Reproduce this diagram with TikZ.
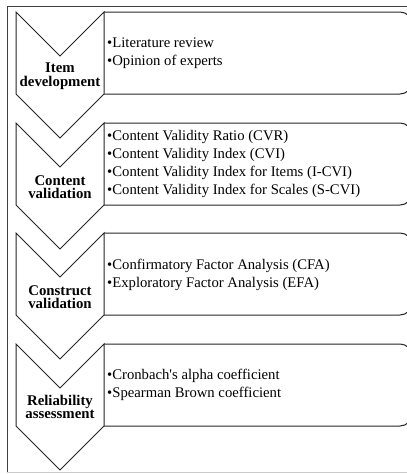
\documentclass[tikz,border=0pt]{standalone}
\usepackage{fontspec}
\setmainfont{Liberation Serif}
\usepackage{tikz}

\tikzset{
	stage/.style={draw=black!85, line width=1pt, fill=white},
	stagebox/.style={draw=black!85, line width=1pt, rounded corners=12pt},
	stagelabel/.style={inner sep=0pt, align=center, font=\bfseries\fontsize{14.8}{13.5}\selectfont},
	itemlist/.style={inner sep=0pt, anchor=west, align=left, font=\fontsize{14.7}{18}\selectfont}
}

\begin{document}
\begin{tikzpicture}[x=1pt, y=-1pt]
	\useasboundingbox (0,0) rectangle (407,474);
	% frame
	\draw[black!75, line width=0.8pt] (7,472.5) -- (7,6) -- (407,6);
	\draw[black!20, line width=0.8pt] (7,472.5) -- (407,472.5);
	% boxes
	\draw[stagebox] (104,12) -- (412,12) -- (412,94) -- (104,94);
	\draw[stagebox] (104,123) -- (412,123) -- (412,205) -- (104,205);
	\draw[stagebox] (104,233) -- (412,233) -- (412,315) -- (104,315);
	\draw[stagebox] (104,344) -- (412,344) -- (412,426) -- (104,426);
	% chevrons
	\draw[stage] (16,12) -- (60,56) -- (104,12) -- (104,94) -- (60,138) -- (16,94) -- cycle;
	\draw[stage] (16,123) -- (60,167) -- (104,123) -- (104,205) -- (60,249) -- (16,205) -- cycle;
	\draw[stage] (16,233) -- (60,277) -- (104,233) -- (104,315) -- (60,359) -- (16,315) -- cycle;
	\draw[stage] (16,344) -- (60,388) -- (104,344) -- (104,426) -- (60,470) -- (16,426) -- cycle;
	% labels
	\node[stagelabel] (item) at (60,76) {Item\\development};
	\node[stagelabel] (content) at (60,187) {Content\\validation};
	\node[stagelabel] (construct) at (60,297) {Construct\\validation};
	\node[stagelabel] (reliab) at (60,407) {Reliability\\assessment};
	% item lists
	\node[itemlist] (itemtxt) at (107,53) {•Literature review\\•Opinion of experts};
	\node[itemlist] (contenttxt) at (107,164) {•Content Validity Ratio (CVR)\\•Content Validity Index (CVI)\\•Content Validity Index for Items (I-CVI)\\•Content Validity Index for Scales (S-CVI)};
	\node[itemlist] (constructtxt) at (107,275) {•Confirmatory Factor Analysis (CFA)\\•Exploratory Factor Analysis (EFA)};
	\node[itemlist] (reliabtxt) at (107,385) {•Cronbach\textquotesingle s alpha coefficient\\•Spearman Brown coefficient};
\end{tikzpicture}
\end{document}
